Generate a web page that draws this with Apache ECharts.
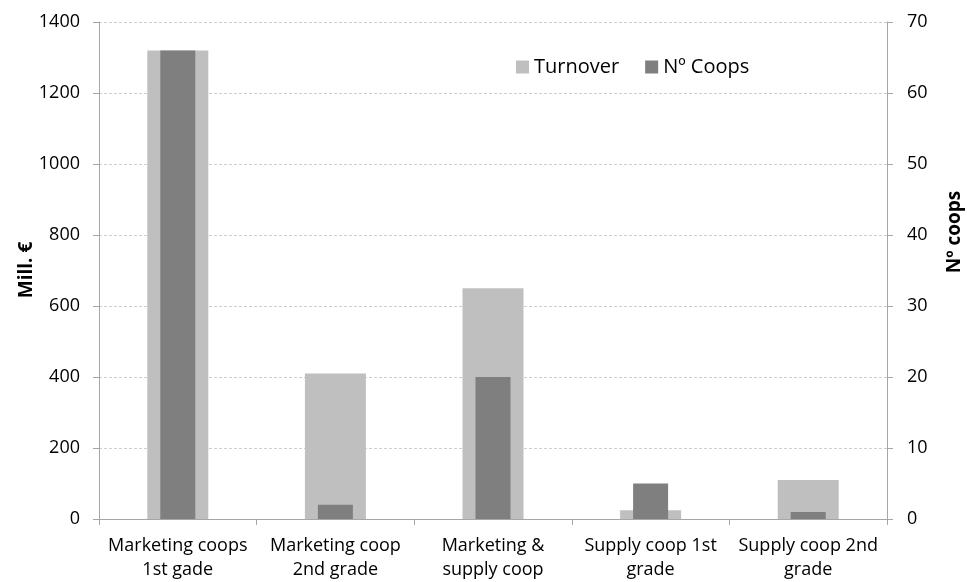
<!DOCTYPE html>
<html>
<head>
<meta charset="utf-8">
<script src="https://cdn.jsdelivr.net/npm/echarts@6/dist/echarts.min.js"></script>
<style>
  html, body { margin: 0; padding: 0; background: #fff; }
  #chart { width: 967px; height: 582px; }
</style>
</head>
<body>
<div id="chart"></div>
<script>
// Cooperative types (two-line axis labels)
const categories = [
  'Marketing coops\n1st gade',
  'Marketing coop\n2nd grade',
  'Marketing &\nsupply coop',
  'Supply coop 1st\ngrade',
  'Supply coop 2nd\ngrade'
];
// Turnover in million euros (left axis)
const turnover = [1320, 410, 650, 25, 110];
// Number of cooperatives (right axis)
const numCoops = [66, 2, 20, 5, 1];

const FONT = '"Open Sans", sans-serif';
const axisLineColor = '#a6a6a6';
const gridColor = '#cfcfcf';
const plainNumber = v => String(v);

const chart = echarts.init(document.getElementById('chart'), null, { renderer: 'canvas' });

// Rotated axis title placed beside an axis
function axisTitle(text, x, y) {
  return {
    type: 'text',
    x: x,
    y: y,
    rotation: Math.PI / 2,
    style: {
      text: text,
      fontFamily: FONT,
      fontSize: 19,
      fontWeight: 'bold',
      fill: '#000',
      textAlign: 'center',
      textVerticalAlign: 'middle'
    }
  };
}

chart.setOption({
  animation: false,
  backgroundColor: '#ffffff',
  textStyle: { fontFamily: FONT },
  grid: { left: 99, right: 80, top: 22, bottom: 62, containLabel: false },
  legend: {
    top: 52,
    left: 511,
    itemWidth: 13,
    itemHeight: 13,
    itemGap: 26,
    icon: 'rect',
    textStyle: { fontFamily: FONT, fontSize: 20, color: '#000' },
    data: ['Turnover', 'Nº Coops']
  },
  xAxis: [
    {
      type: 'category',
      data: categories,
      boundaryGap: true,
      axisLine: { lineStyle: { color: axisLineColor, width: 1 } },
      axisTick: { show: true, length: 6, lineStyle: { color: axisLineColor } },
      axisLabel: {
        interval: 0,
        margin: 15,
        color: '#000',
        fontFamily: FONT,
        fontSize: 18,
        lineHeight: 24
      },
      splitLine: { show: false }
    },
    {
      type: 'category',
      data: categories,
      show: false
    }
  ],
  yAxis: [
    {
      type: 'value',
      min: 0,
      max: 1400,
      interval: 200,
      axisLine: { show: true, lineStyle: { color: axisLineColor } },
      axisTick: { show: true, length: 6, lineStyle: { color: axisLineColor } },
      axisLabel: { margin: 19, color: '#000', fontFamily: FONT, fontSize: 18, formatter: plainNumber },
      splitLine: { show: true, lineStyle: { color: gridColor, type: [3, 2], width: 1 } }
    },
    {
      type: 'value',
      min: 0,
      max: 70,
      interval: 10,
      position: 'right',
      axisLine: { show: true, lineStyle: { color: axisLineColor } },
      axisTick: { show: true, length: 6, lineStyle: { color: axisLineColor } },
      axisLabel: { margin: 20, color: '#000', fontFamily: FONT, fontSize: 18, formatter: plainNumber },
      splitLine: { show: false }
    }
  ],
  graphic: [
    axisTitle('Mill. €', 27, 270),
    axisTitle('Nº coops', 955, 232)
  ],
  series: [
    {
      name: 'Turnover',
      type: 'bar',
      xAxisIndex: 0,
      yAxisIndex: 0,
      data: turnover,
      barWidth: 61,
      itemStyle: { color: '#bfbfbf' }
    },
    {
      name: 'Nº Coops',
      type: 'bar',
      xAxisIndex: 1,
      yAxisIndex: 1,
      data: numCoops,
      barWidth: 35,
      itemStyle: { color: '#7f7f7f' }
    }
  ]
});
</script>
</body>
</html>
